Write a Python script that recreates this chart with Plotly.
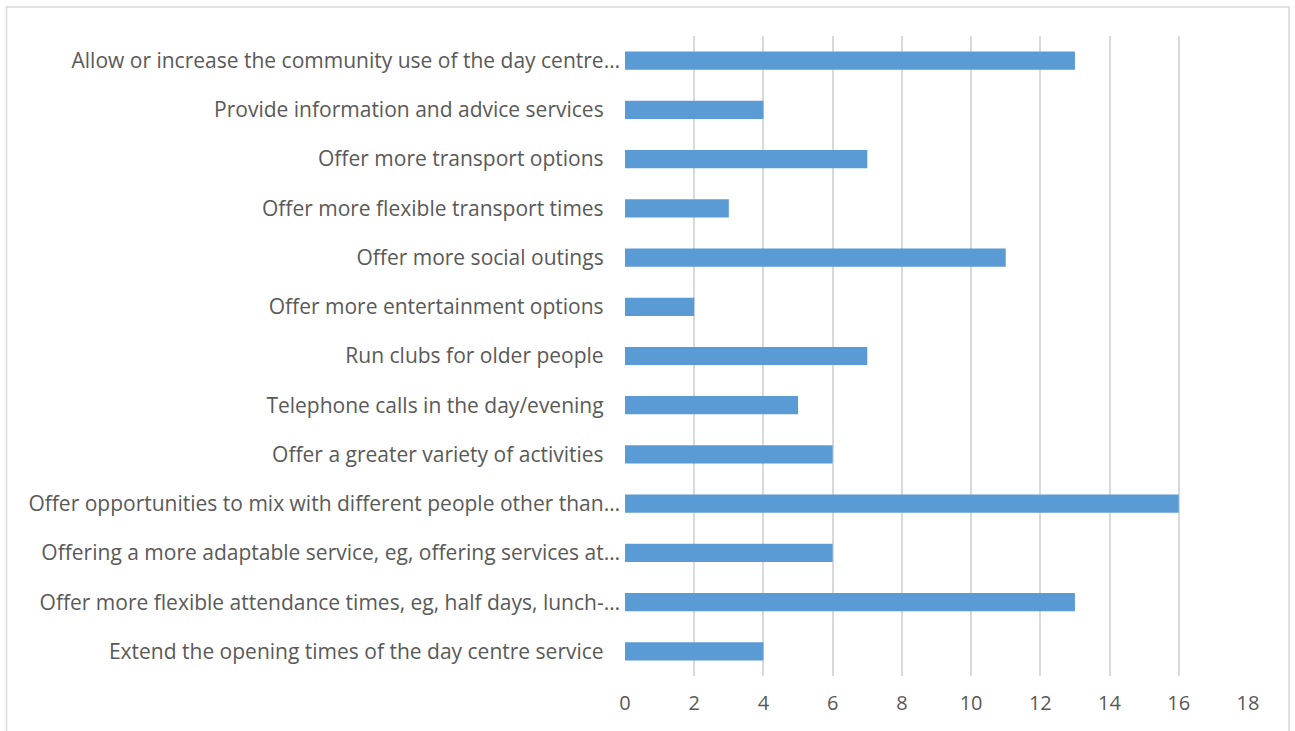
import plotly.graph_objects as go

# Categories listed top to bottom as they appear on the chart
categories = [
    "Allow or increase the community use of the day centre…",
    "Provide information and advice services",
    "Offer more transport options",
    "Offer more flexible transport times",
    "Offer more social outings",
    "Offer more entertainment options",
    "Run clubs for older people",
    "Telephone calls in the day/evening",
    "Offer a greater variety of activities",
    "Offer opportunities to mix with different people other than…",
    "Offering a more adaptable service, eg, offering services at…",
    "Offer more flexible attendance times, eg, half days, lunch-…",
    "Extend the opening times of the day centre service",
]
values = [13, 4, 7, 3, 11, 2, 7, 5, 6, 16, 6, 13, 4]
x_ticks = [0, 2, 4, 6, 8, 10, 12, 14, 16, 18]

# Pad untruncated labels so they sit a little further from the axis
labels = [c if c.endswith("…") else c + "\u00a0\u00a0\u00a0" for c in categories]

W, H = 1295, 731
L, R, T, B = 625, 47, 36, 55

fig = go.Figure(
    go.Bar(
        x=values,
        y=labels,
        orientation="h",
        marker=dict(color="#5B9BD5", line=dict(width=0)),
        width=0.37,
    )
)

fig.update_layout(
    width=W,
    height=H,
    margin=dict(l=L, r=R, t=T, b=B),
    paper_bgcolor="white",
    plot_bgcolor="white",
    showlegend=False,
    font=dict(family="Open Sans", size=18, color="#595959"),
    xaxis=dict(
        range=[0, 18],
        tickvals=x_ticks,
        tickfont=dict(size=20),
        showgrid=True,
        gridcolor="#D9D9D9",
        gridwidth=1.5,
        zeroline=False,
        showline=False,
        ticks="",
        ticklabelstandoff=13,
        fixedrange=True,
    ),
    yaxis=dict(
        autorange="reversed",
        tickfont=dict(size=21),
        showgrid=False,
        zeroline=False,
        showline=False,
        ticks="",
        ticklabelstandoff=4,
        fixedrange=True,
    ),
)

# Chart-area border
pw, ph = W - L - R, H - T - B
fig.add_shape(
    type="rect",
    xref="paper", yref="paper",
    x0=(6.5 - L) / pw, x1=(1289 - L) / pw,
    y0=(H - B - 740) / ph, y1=(H - B - 7) / ph,
    line=dict(color="#D9D9D9", width=1.5),
    fillcolor="rgba(0,0,0,0)",
    layer="below",
)

fig.write_html("out.html")
